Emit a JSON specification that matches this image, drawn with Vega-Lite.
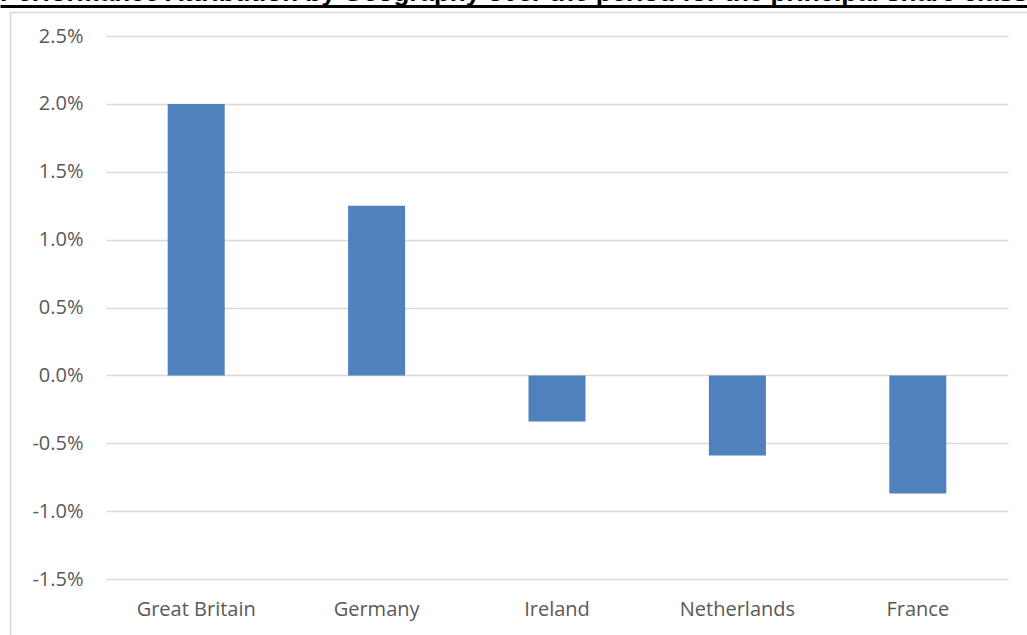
{
  "$schema": "https://vega.github.io/schema/vega-lite/v6.json",
  "width": 902,
  "height": 543,
  "autosize": {"type": "none"},
  "padding": {"left": 106, "top": 36, "right": 19, "bottom": 56},
  "background": "white",
  "title": {
    "text": "Performance Attribution by Geography over the period for the principal share class",
    "anchor": "start",
    "frame": "group",
    "dx": -106,
    "offset": -26,
    "baseline": "bottom",
    "font": "Liberation Sans",
    "fontSize": 26,
    "fontWeight": "bold",
    "color": "black"
  },
  "data": {
    "values": [
      {"country": "Great Britain", "value": 0.02},
      {"country": "Germany", "value": 0.0125},
      {"country": "Ireland", "value": -0.0034},
      {"country": "Netherlands", "value": -0.0059},
      {"country": "France", "value": -0.0087}
    ]
  },
  "layer": [
    {
      "mark": {"type": "bar", "color": "#4f81bd"},
      "encoding": {
        "x": {
          "field": "country",
          "type": "nominal",
          "sort": null,
          "scale": {"paddingInner": 0.684, "paddingOuter": 0.342},
          "axis": {
            "title": null,
            "labelAngle": 0,
            "ticks": false,
            "domain": false,
            "labelPadding": 20,
            "labelFont": "Open Sans",
            "labelFontSize": 20,
            "labelColor": "#595959"
          }
        },
        "y": {
          "field": "value",
          "type": "quantitative",
          "scale": {"domain": [-0.015, 0.025], "nice": false, "zero": false},
          "axis": {
            "title": null,
            "values": [-0.015, -0.01, -0.005, 0, 0.005, 0.01, 0.015, 0.02, 0.025],
            "format": ".1%",
            "ticks": false,
            "domain": false,
            "labelPadding": 23,
            "labelFont": "Open Sans",
            "labelFontSize": 20,
            "labelColor": "#595959",
            "gridColor": "#d9d9d9",
            "gridWidth": 1.5
          }
        }
      }
    },
    {
      "mark": {"type": "bar", "opacity": 0},
      "encoding": {
        "x": {
          "field": "country",
          "type": "nominal",
          "sort": null,
          "scale": {"range": [-96, 930]},
          "axis": {
            "orient": "top",
            "offset": 24,
            "title": null,
            "labels": false,
            "ticks": false,
            "grid": false,
            "domain": true,
            "domainColor": "#d9d9d9",
            "domainWidth": 1.5
          }
        },
        "y": {
          "field": "value",
          "type": "quantitative",
          "scale": {"range": [700, -24]},
          "axis": {
            "orient": "left",
            "offset": 96,
            "title": null,
            "labels": false,
            "ticks": false,
            "grid": false,
            "domain": true,
            "domainColor": "#d9d9d9",
            "domainWidth": 1.5
          }
        }
      }
    },
    {
      "mark": {"type": "bar", "opacity": 0},
      "encoding": {
        "x": {
          "field": "country",
          "type": "nominal",
          "sort": null,
          "scale": {"range": [-106, 921]},
          "axis": {
            "orient": "top",
            "offset": 30,
            "title": null,
            "labels": false,
            "ticks": false,
            "grid": false,
            "domain": true,
            "domainColor": "black",
            "domainWidth": 3
          }
        },
        "y": {
          "field": "value",
          "type": "quantitative",
          "axis": null
        }
      }
    }
  ],
  "resolve": {
    "scale": {"x": "independent", "y": "independent"},
    "axis": {"x": "independent", "y": "independent"}
  },
  "config": {
    "view": {"stroke": null},
    "locale": {
      "number": {
        "decimal": ".",
        "thousands": ",",
        "grouping": [3],
        "currency": ["$", ""],
        "minus": "-"
      }
    }
  }
}
